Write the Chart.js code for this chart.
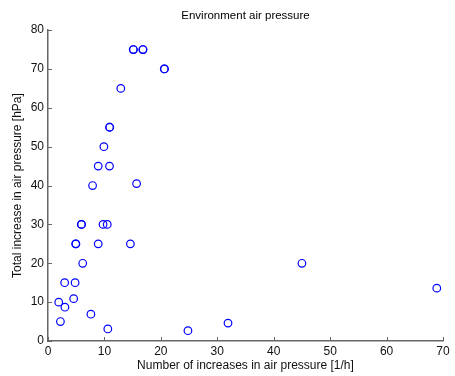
<!DOCTYPE html>
<html>
<head>
<meta charset="utf-8">
<script src="https://cdn.jsdelivr.net/npm/chart.js@4"></script>
<style>
  body { margin: 0; background: #fff; }
  #wrap { width: 455px; height: 376px; }
</style>
</head>
<body>
<div id="wrap"><canvas id="pressureChart" width="455" height="376"></canvas></div>
<script>
// increases per hour vs total increase (hPa); repeated entries are overlapping markers
const increasesPerHour = [15.1, 15.15, 16.8, 16.85, 20.6, 20.65, 12.9, 10.9, 10.95, 9.9, 8.9, 10.9, 7.9, 15.7,
  5.9, 5.95, 9.75, 10.5, 4.9, 4.95, 8.9, 14.6, 6.15, 2.95, 4.8, 4.55, 1.9, 3.0, 2.2, 7.6, 10.6, 24.8, 31.9, 45.0, 68.9];
const totalIncrease = [75, 75, 75, 75, 70, 70, 65, 55, 55, 50, 45, 45, 40, 40.5,
  30, 30, 30, 30, 25, 25, 25, 25, 20, 15, 15, 10.9, 10, 8.7, 5, 6.9, 3.1, 2.65, 4.6, 20, 13.6];

const xTicks = [0, 10, 20, 30, 40, 50, 60, 70];
const yTicks = [0, 10, 20, 30, 40, 50, 60, 70, 80];

const axisColor = '#666';
const fontFamily = '"Liberation Sans", Arial, sans-serif';

let points = [];
increasesPerHour.forEach(function (x, i) {
  points.push({ x: x, y: totalIncrease[i] });
});

// matlab style ticks pointing into the plot
const innerTicks = {
  id: 'innerTicks',
  afterDraw(chart) {
    const ctx = chart.ctx;
    const xs = chart.scales.x;
    const ys = chart.scales.y;
    ctx.save();
    ctx.strokeStyle = axisColor;
    ctx.lineWidth = 1;
    ctx.beginPath();
    xTicks.forEach(function (v) {
      const px = Math.round(xs.getPixelForValue(v)) + 0.5;
      ctx.moveTo(px, ys.bottom);
      ctx.lineTo(px, ys.bottom - 4);
    });
    yTicks.forEach(function (v) {
      const py = Math.round(ys.getPixelForValue(v)) + 0.5;
      ctx.moveTo(xs.left, py);
      ctx.lineTo(xs.left + 4, py);
    });
    ctx.stroke();
    ctx.restore();
  }
};

new Chart(document.getElementById('pressureChart'), {
  type: 'scatter',
  data: {
    datasets: [{
      data: points,
      pointStyle: 'circle',
      pointRadius: 3.8,
      pointBorderWidth: 1.2,
      pointBorderColor: '#0000ff',
      pointBackgroundColor: 'rgba(0,0,0,0)'
    }]
  },
  plugins: [innerTicks],
  options: {
    responsive: false,
    animation: false,
    layout: { padding: { right: 12, top: 0, left: 0, bottom: 0 } },
    plugins: {
      legend: { display: false },
      tooltip: { enabled: false },
      title: {
        display: true,
        fullSize: false,
        text: 'Environment air pressure',
        color: '#000',
        font: { family: fontFamily, size: 11.5, weight: 'normal' },
        padding: { top: 9, bottom: 7.3 }
      }
    },
    scales: {
      x: {
        type: 'linear',
        min: 0,
        max: 70,
        afterBuildTicks: function (axis) {
          axis.ticks = xTicks.map(v => ({ value: v }));
        },
        afterFit: function (axis) { axis.height = 35; },
        grid: { display: false, drawTicks: false },
        border: { display: true, color: axisColor, width: 1.5 },
        ticks: { color: '#111', padding: 3, font: { family: fontFamily, size: 12 }, maxRotation: 0 },
        title: {
          display: true,
          text: 'Number of increases in air pressure [1/h]',
          color: '#111',
          font: { family: fontFamily, size: 12 },
          padding: { top: 0, bottom: 2.8 }
        }
      },
      y: {
        type: 'linear',
        min: 0,
        max: 80,
        afterBuildTicks: function (axis) {
          axis.ticks = yTicks.map(v => ({ value: v }));
        },
        afterFit: function (axis) { axis.width = 48; },
        grid: { display: false, drawTicks: false },
        border: { display: true, color: axisColor, width: 1.5 },
        ticks: { color: '#111', padding: 4, font: { family: fontFamily, size: 12 } },
        title: {
          display: true,
          text: 'Total increase in air pressure [hPa]',
          color: '#111',
          font: { family: fontFamily, size: 12 },
          padding: { top: 10, bottom: 0 }
        }
      }
    }
  }
});
</script>
</body>
</html>
